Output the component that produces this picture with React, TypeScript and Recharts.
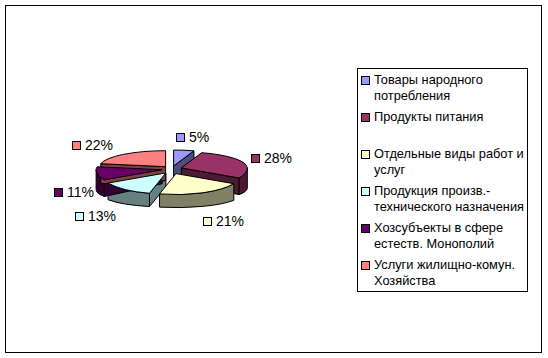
import { PieChart, Pie, Legend } from "recharts";

const categories = [
  "Товары народного потребления",
  "Продукты питания",
  "Отдельные виды работ и услуг",
  "Продукция произв.-технического назначения",
  "Хозсубъекты в сфере естеств. Монополий",
  "Услуги жилищно-комун. Хозяйства",
];
const shares = [5, 28, 21, 13, 11, 22];
const topColors = ["#9999FF", "#993366", "#FFFFCC", "#CCFFFF", "#660066", "#FF8080"];
const sideColors = ["#4D4D80", "#4D1A33", "#808066", "#668080", "#330033", "#804040"];

const data = categories.map((name, i) => ({ name, value: shares[i] }));

const FONT = '"Liberation Sans", Arial, sans-serif';
// fake perspective: back half of the top is flatter than the front half
const RY_BACK = 16;
const RY_FRONT = 21;
const RY_FLOOR = 14; // front half of the bottom rim
const DROP = 20; // bottom rim offset at the sides
const APEX_DROP = 14;
const EXPLODE = 10;
const RAD = Math.PI / 180;

function geom(props: any) {
  const { cx, cy, outerRadius: r, midAngle } = props;
  const s = Math.sin(midAngle * RAD);
  const ax = cx + EXPLODE * Math.cos(midAngle * RAD);
  const ay = cy - EXPLODE * s * (s > 0 ? 0.3 : 0.5);
  const ryAt = (a: number) => (Math.sin(a * RAD) >= 0 ? RY_BACK : RY_FRONT);
  const pt = (a: number) => [ax + r * Math.cos(a * RAD), ay - ryAt(a) * Math.sin(a * RAD)];
  const ptB = (a: number) => [ax + r * Math.cos(a * RAD), ay + DROP - RY_FLOOR * Math.sin(a * RAD)];
  return { r, ax, ay, pt, ptB, ryAt };
}

function renderWalls(props: any) {
  const { startAngle, endAngle, index } = props;
  const { r, ax, ay, pt, ptB } = geom(props);
  const hi = Math.max(startAngle, endAngle);
  const lo = Math.min(startAngle, endAngle);
  const style = { fill: sideColors[index], stroke: "#000", strokeWidth: 1, strokeLinejoin: "round" as const };
  const faces = [];
  // radial walls, only the ones turned to the viewer
  [
    [hi, hi + 90],
    [lo, lo - 90],
  ].forEach(([e, n], k) => {
    if (Math.sin(n * RAD) < -0.01) {
      const [x, y] = pt(e);
      const [xb, yb] = Math.sin(e * RAD) < 0 ? ptB(e) : [x, y + DROP];
      faces.push(
        <path key={"r" + k} d={`M${ax},${ay}L${x},${y}L${xb},${yb}L${ax},${ay + APEX_DROP}Z`} {...style} />
      );
    }
  });
  // curved outer wall, front half only
  const a2 = Math.min(hi, 0);
  const a1 = Math.max(lo, -180);
  if (a1 < a2) {
    const [x2, y2] = pt(a2);
    const [x1, y1] = pt(a1);
    const [bx1, by1] = ptB(a1);
    const [bx2, by2] = ptB(a2);
    faces.push(
      <path
        key="o"
        d={`M${x2},${y2}A${r},${RY_FRONT} 0 0 1 ${x1},${y1}L${bx1},${by1}A${r},${RY_FLOOR} 0 0 0 ${bx2},${by2}Z`}
        {...style}
      />
    );
  }
  return <g>{faces}</g>;
}

function renderTops(props: any) {
  const { startAngle, endAngle, midAngle, percent, index, cx, cy } = props;
  const { r, ax, ay, pt, ryAt } = geom(props);
  const hi = Math.max(startAngle, endAngle);
  const lo = Math.min(startAngle, endAngle);
  // split the rim where the ellipse half changes
  const stops = [hi, ...[0, -180].filter((v) => v < hi && v > lo), lo];
  const [xs, ys] = pt(hi);
  let d = `M${ax},${ay}L${xs},${ys}`;
  for (let k = 1; k < stops.length; k++) {
    const [x, y] = pt(stops[k]);
    d += `A${r},${ryAt((stops[k - 1] + stops[k]) / 2)} 0 0 1 ${x},${y}`;
  }
  d += "Z";

  const label = `${Math.round(percent * 100)}%`;
  const c = Math.cos(midAngle * RAD);
  const s = Math.sin(midAngle * RAD);
  const lx = cx + c * (92 + 42 * Math.abs(s));
  const ly = cy + 1 - s * (s > 0 ? 33 : 38) + (s < 0 ? 16 : 0);
  const w = 13 + (label.length - 1) * 7.8 + 12.4;
  const left = Math.round(lx - w / 2);

  return (
    <g>
      <path d={d} fill={topColors[index]} stroke="#000" strokeWidth={1} strokeLinejoin="round" />
      <rect x={left + 0.5} y={Math.round(ly - 4) + 0.5} width={8} height={8} fill={topColors[index]} stroke="#000" />
      <text x={left + 13} y={ly + 5} fontFamily={FONT} fontSize={14} fill="#000">
        {label}
      </text>
    </g>
  );
}

const renderLegend = () => (
  <div
    style={{
      boxSizing: "border-box",
      width: 171,
      height: 224,
      border: "1px solid #000",
      background: "#fff",
      padding: "3px 0 0 3px",
      fontFamily: FONT,
      fontSize: 12.8,
      lineHeight: "16px",
      color: "#000",
      textAlign: "left",
    }}
  >
    {categories.map((name, i) => (
      <div key={name} style={{ display: "flex", alignItems: "flex-start", minHeight: 32, marginBottom: 5 }}>
        <span
          style={{
            width: 7,
            height: 7,
            marginTop: 4,
            marginRight: 4,
            border: "1px solid #000",
            background: topColors[i],
            flex: "none",
          }}
        />
        <span style={{ width: 155 }}>{name}</span>
      </div>
    ))}
  </div>
);

export default function App() {
  return (
    <div
      style={{
        position: "absolute",
        left: 5,
        top: 5,
        width: 537,
        height: 348,
        boxSizing: "border-box",
        border: "1px solid #000",
        background: "#fff",
      }}
    >
      <PieChart width={535} height={346} margin={{ top: 0, right: 0, bottom: 0, left: 0 }}>
        <Pie
          data={data}
          dataKey="value"
          nameKey="name"
          cx={166}
          cy={163}
          outerRadius={66}
          startAngle={90}
          endAngle={-270}
          fill="none"
          stroke="none"
          legendType="none"
          labelLine={false}
          label={renderWalls}
          isAnimationActive={false}
        />
        <Pie
          data={data}
          dataKey="value"
          nameKey="name"
          cx={166}
          cy={163}
          outerRadius={66}
          startAngle={90}
          endAngle={-270}
          fill="none"
          stroke="none"
          labelLine={false}
          label={renderTops}
          isAnimationActive={false}
        />
        <Legend
          layout="vertical"
          align="right"
          verticalAlign="middle"
          content={renderLegend}
          wrapperStyle={{ left: 351, top: 62, width: 171, height: 224 }}
        />
      </PieChart>
    </div>
  );
}
